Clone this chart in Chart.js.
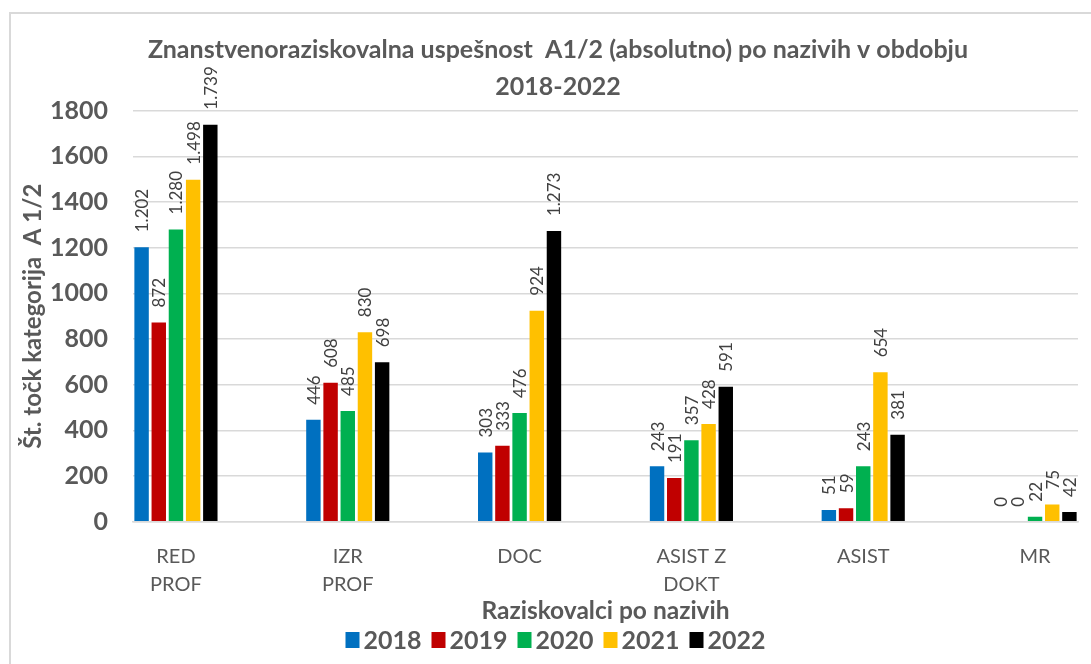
<!DOCTYPE html>
<html><head><meta charset="utf-8">
<script src="https://cdn.jsdelivr.net/npm/chart.js@4/dist/chart.umd.min.js"></script>
<style>html,body{margin:0;padding:0;background:#fff;overflow:hidden}#wrap{width:1091px;height:664px;position:relative}</style>
</head><body><div id="wrap"><canvas id="c" width="1091" height="664"></canvas></div>
<script>
// ---- data ----
const categories = [["RED","PROF"],["IZR","PROF"],["DOC"],["ASIST Z","DOKT"],["ASIST"],["MR"]];
const years = ["2018","2019","2020","2021","2022"];
const values2018 = [1202, 446, 303, 243, 51, 0];
const values2019 = [872, 608, 333, 191, 59, 0];
const values2020 = [1280, 485, 476, 357, 243, 22];
const values2021 = [1498, 830, 924, 428, 654, 75];
const values2022 = [1739, 698, 1273, 591, 381, 42];
const yTicks = [0, 200, 400, 600, 800, 1000, 1200, 1400, 1600, 1800];
const titleLines = ["Znanstvenoraziskovalna uspešnost  A1/2 (absolutno) po nazivih v obdobju", "2018-2022"];
const yTitle = "Št. točk kategorija  A 1/2";
const xTitle = "Raziskovalci po nazivih";

const seriesValues = [values2018, values2019, values2020, values2021, values2022];
const colors = ['#0070C0', '#C00000', '#00B050', '#FFC000', '#000000'];
const FONT = 'Lato';
const GREY = '#595959';

function fmt(v) {
  if (v >= 1000) return Math.floor(v / 1000) + '.' + String(v % 1000).padStart(3, '0');
  return String(v);
}

const frame = {
  id: 'frame',
  beforeDraw(chart) {
    const ctx = chart.ctx;
    ctx.save();
    ctx.fillStyle = '#ffffff';
    ctx.fillRect(0, 0, chart.width, chart.height);
    ctx.strokeStyle = '#d9d9d9';
    ctx.lineWidth = 2;
    ctx.strokeRect(10, 13, 1300, 900);
    ctx.restore();
  }
};

const barLabels = {
  id: 'barLabels',
  afterDatasetsDraw(chart) {
    const ctx = chart.ctx;
    ctx.save();
    ctx.font = '17px ' + FONT;
    ctx.fillStyle = '#404040';
    ctx.textAlign = 'left';
    ctx.textBaseline = 'middle';
    chart.data.datasets.forEach((ds, di) => {
      const meta = chart.getDatasetMeta(di);
      meta.data.forEach((bar, i) => {
        const v = ds.data[i].y;
        ctx.save();
        ctx.translate(bar.x + 1, bar.y - 15);
        ctx.rotate(-Math.PI / 2);
        ctx.fillText(fmt(v), 0, 0);
        ctx.restore();
      });
    });
    ctx.restore();
  }
};

// compact legend (small box-to-text gap, as in the original)
const compactLegend = {
  id: 'compactLegend',
  afterDraw(chart) {
    const ctx = chart.ctx;
    ctx.save();
    ctx.font = 'bold 25px ' + FONT;
    ctx.textBaseline = 'middle';
    ctx.textAlign = 'left';
    const boxW = 14, boxH = 16, gapText = 4, gapItem = 10;
    const items = chart.data.datasets.map(ds => ({ text: ds.label, color: ds.backgroundColor, w: ctx.measureText(ds.label).width }));
    const total = items.reduce((s, it) => s + boxW + gapText + it.w, 0) + gapItem * (items.length - 1);
    const cx = (chart.chartArea.left + chart.chartArea.right) / 2 - 50;
    const cy = 640;
    let x = cx - total / 2;
    items.forEach(it => {
      ctx.fillStyle = it.color;
      ctx.fillRect(x, cy - boxH / 2, boxW, boxH);
      x += boxW + gapText;
      ctx.fillStyle = GREY;
      ctx.fillText(it.text, x, cy + 1);
      x += it.w + gapItem;
    });
    ctx.restore();
  }
};

const datasets = years.map((y, k) => ({
  label: y,
  data: seriesValues[k].map((v, i) => ({ x: i, y: v })),
  backgroundColor: colors[k],
  borderWidth: 0,
  categoryPercentage: 0.5,
  barPercentage: 0.84
}));

new Chart(document.getElementById('c'), {
  type: 'bar',
  data: { datasets },
  plugins: [frame, barLabels, compactLegend],
  options: {
    responsive: false,
    animation: false,
    devicePixelRatio: 1,
    layout: { padding: { left: 38, right: 13, top: 0, bottom: 40.5 } },
    plugins: {
      tooltip: { enabled: false },
      title: {
        display: true,
        text: titleLines,
        color: GREY,
        font: { family: FONT, size: 25, weight: 'bold', lineHeight: 37 / 25 },
        padding: { top: 31.5, bottom: 5.2 }
      },
      legend: { display: false }
    },
    scales: {
      x: {
        type: 'linear',
        offset: false,
        min: -0.25,
        max: 5.25,
        afterBuildTicks: (s) => { s.ticks = categories.map((_, i) => ({ value: i })); },
        afterFit: (s) => { s.height = 101.8; },
        grid: { display: false, drawTicks: false },
        border: { display: true, color: '#d9d9d9', width: 1.5 },
        ticks: {
          color: GREY,
          font: { family: FONT, size: 20, lineHeight: 28 / 20 },
          padding: 21,
          maxRotation: 0,
          autoSkip: false,
          callback: (v) => categories[v]
        },
        title: {
          display: true,
          text: xTitle,
          color: GREY,
          font: { family: FONT, size: 24.5, weight: 'bold', lineHeight: 1 },
          padding: { top: 0, bottom: 0 }
        }
      },
      y: {
        min: 0,
        max: 1800,
        afterBuildTicks: (s) => { s.ticks = yTicks.map(v => ({ value: v })); },
        afterFit: (s) => { s.width = 95; },
        grid: { color: '#d9d9d9', lineWidth: 1.5, drawTicks: false },
        border: { display: false },
        ticks: {
          color: GREY,
          font: { family: FONT, size: 25, weight: 'bold' },
          padding: 25,
          callback: (v) => String(v)
        },
        title: {
          display: true,
          text: yTitle,
          color: GREY,
          font: { family: FONT, size: 24, weight: 'bold', lineHeight: 1.2 },
          padding: { top: -19.4, bottom: 0 }
        }
      }
    }
  }
});
</script>
</body></html>
